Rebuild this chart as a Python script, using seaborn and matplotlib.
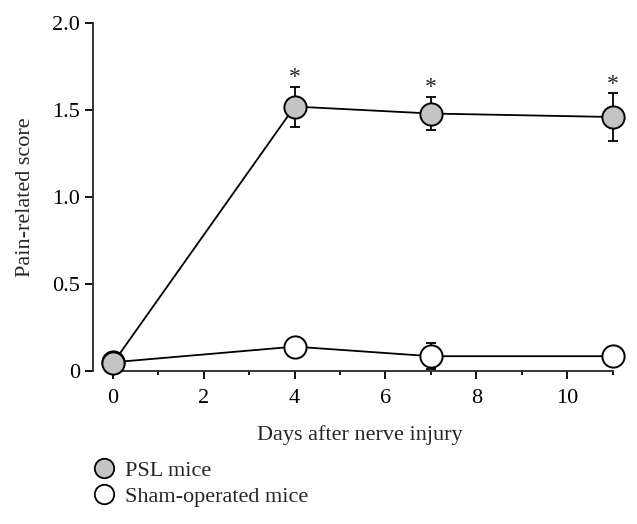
import matplotlib
matplotlib.use('Agg')
import matplotlib.pyplot as plt
import seaborn as sns
import pandas as pd
from matplotlib.lines import Line2D

# Values
days = [0, 4, 7, 11]
psl_mean = [0.045, 1.52, 1.48, 1.46]
psl_err = [0.0, 0.115, 0.095, 0.137]
sham_mean = [0.05, 0.14, 0.085, 0.085]
sham_err = [0.0, 0.0, 0.075, 0.0]
stars = [False, True, True, True]

sns.set_style('ticks')
plt.rcParams['font.family'] = ['Liberation Serif', 'DejaVu Serif']

df = pd.DataFrame({
    'day': days * 2,
    'score': psl_mean + sham_mean,
    'group': ['PSL mice'] * 4 + ['Sham-operated mice'] * 4,
})

fig = plt.figure(figsize=(6.37, 5.24), dpi=100)
ax = fig.add_axes([0.146, 0.292, 0.837, 0.664])

# error bars (behind markers)
ax.errorbar(days, sham_mean, yerr=sham_err, fmt='none', ecolor='black',
            elinewidth=1.3, capsize=3.5, capthick=1.3, zorder=1, clip_on=False)
ax.errorbar(days, psl_mean, yerr=psl_err, fmt='none', ecolor='black',
            elinewidth=1.3, capsize=3.5, capthick=1.3, zorder=1, clip_on=False)

sham = df[df['group'] == 'Sham-operated mice']
psl = df[df['group'] == 'PSL mice']
sns.lineplot(data=sham, x='day', y='score', ax=ax, color='black', linewidth=1.3,
             marker='o', markersize=16, markerfacecolor='white',
             markeredgecolor='black', markeredgewidth=1.4, clip_on=False, zorder=3)
sns.lineplot(data=psl, x='day', y='score', ax=ax, color='black', linewidth=1.3,
             marker='o', markersize=16, markerfacecolor='#c4c4c4',
             markeredgecolor='black', markeredgewidth=1.4, clip_on=False, zorder=4)

for d, m, e, s in zip(days, psl_mean, psl_err, stars):
    if s:
        ax.annotate('*', (d, m + e), xytext=(0, -1), textcoords='offset points',
                    ha='center', va='bottom', fontsize=17)

ax.set_xlim(-0.44, 11.3)
ax.set_ylim(0, 2.0)
ax.set_xticks([0, 2, 4, 6, 8, 10])
ax.set_xticks(range(0, 12), minor=True)
ax.set_yticks([0, 0.5, 1.0, 1.5, 2.0])
ax.set_yticklabels(['0', '0.5', '1.0', '1.5', '2.0'])
ax.spines['top'].set_visible(False)
ax.spines['right'].set_visible(False)
ax.spines['left'].set_bounds(0, 2.0)
ax.spines['bottom'].set_bounds(0, 11)
ax.tick_params(axis='both', which='both', direction='out', width=1.3, colors='black',
               labelsize=16)
ax.tick_params(axis='both', which='major', length=6)
ax.tick_params(axis='x', which='major', pad=7)
ax.tick_params(axis='x', which='minor', length=3)
ax.spines['left'].set_linewidth(1.3)
ax.spines['bottom'].set_linewidth(1.3)
ax.set_xlabel('Days after nerve injury', fontsize=16, labelpad=12)
ax.set_ylabel('Pain-related score', fontsize=16, labelpad=12)

handles = [
    Line2D([], [], linestyle='none', marker='o', markersize=14, markerfacecolor='#c4c4c4',
           markeredgecolor='black', markeredgewidth=1.3),
    Line2D([], [], linestyle='none', marker='o', markersize=14, markerfacecolor='white',
           markeredgecolor='black', markeredgewidth=1.3),
]
fig.legend(handles, ['PSL mice', 'Sham-operated mice'], loc='upper left',
           bbox_to_anchor=(0.13, 0.138), frameon=False, fontsize=16,
           handletextpad=0.4, labelspacing=0.25, handlelength=1.1, borderaxespad=0)

fig.savefig('out.png', dpi=100)
